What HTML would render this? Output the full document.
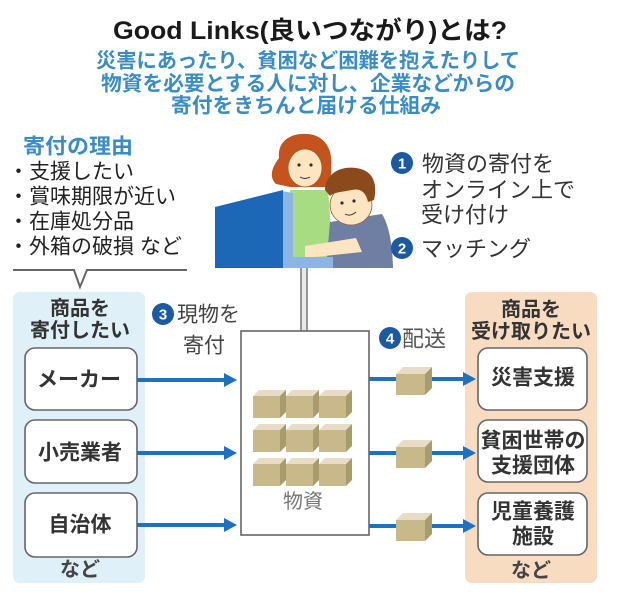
<!DOCTYPE html>
<html><head><meta charset="utf-8">
<style>
html,body{margin:0;padding:0;background:#fff;}
svg{display:block;}
text{font-family:"Liberation Sans","Noto Sans CJK JP",sans-serif;}
</style></head>
<body>
<svg width="620" height="596" viewBox="0 0 620 596" xmlns="http://www.w3.org/2000/svg">
<rect width="620" height="596" fill="#fff"/>

<!-- Title -->
<text x="310" y="31" font-size="25" font-weight="bold" fill="#1a1a1a" text-anchor="middle" dominant-baseline="central" textLength="394" lengthAdjust="spacingAndGlyphs">Good Links(良いつながり)とは?</text>
<g font-size="20.5" font-weight="bold" fill="#3a8cc6" text-anchor="middle" dominant-baseline="central">
<text x="308" y="61" textLength="424" lengthAdjust="spacingAndGlyphs">災害にあったり、貧困など困難を抱えたりして</text>
<text x="308" y="84" textLength="414" lengthAdjust="spacingAndGlyphs">物資を必要とする人に対し、企業などからの</text>
<text x="306" y="106" textLength="270" lengthAdjust="spacingAndGlyphs">寄付をきちんと届ける仕組み</text>
</g>

<!-- Reasons -->
<text x="23" y="147" font-size="21" font-weight="bold" fill="#3a8cc6" dominant-baseline="central" textLength="110" lengthAdjust="spacingAndGlyphs">寄付の理由</text>
<g font-size="21" fill="#222" dominant-baseline="central">
<text x="8" y="172">・支援したい</text>
<text x="8" y="197">・賞味期限が近い</text>
<text x="8" y="222">・在庫処分品</text>
<text x="8" y="247">・外箱の破損 など</text>
</g>
<polyline points="13,270 74,270 80,287 87,270 187,270" fill="none" stroke="#666" stroke-width="2"/>

<!-- Panels -->
<rect x="13" y="292" width="132" height="291" rx="7" fill="#e0f0f9"/>
<rect x="465" y="292" width="132" height="291" rx="7" fill="#f8dcc2"/>

<g font-size="20" font-weight="bold" fill="#333" text-anchor="middle" dominant-baseline="central">
<text x="80" y="309">商品を</text>
<text x="80" y="331">寄付したい</text>
<text x="531" y="310">商品を</text>
<text x="531" y="332">受け取りたい</text>
</g>

<!-- Boxes -->
<g fill="#fff" stroke="#666" stroke-width="1.6">
<rect x="25" y="348" width="112" height="62" rx="10"/>
<rect x="25" y="420" width="112" height="63" rx="10"/>
<rect x="25" y="493" width="112" height="64" rx="10"/>
<rect x="478" y="348" width="109" height="62" rx="10"/>
<rect x="478" y="420" width="109" height="62" rx="10"/>
<rect x="478" y="493" width="109" height="62" rx="10"/>
</g>
<g font-size="21" font-weight="bold" fill="#333" text-anchor="middle" dominant-baseline="central">
<text x="79" y="380">メーカー</text>
<text x="80" y="453">小売業者</text>
<text x="80" y="525">自治体</text>
<text x="533" y="378">災害支援</text>
<text x="533" y="441">貧困世帯の</text>
<text x="533" y="466">支援団体</text>
<text x="533" y="512">児童養護</text>
<text x="533" y="537">施設</text>
</g>
<g font-size="20" font-weight="bold" fill="#444" text-anchor="middle" dominant-baseline="central">
<text x="80" y="570">など</text>
<text x="531" y="571">など</text>
</g>

<!-- Arrows -->
<g stroke="#2070c0" stroke-width="4">
<line x1="137" y1="380" x2="226" y2="380"/>
<line x1="137" y1="453" x2="226" y2="453"/>
<line x1="137" y1="525" x2="226" y2="525"/>
<line x1="369" y1="379" x2="396" y2="379"/>
<line x1="369" y1="453" x2="396" y2="453"/>
<line x1="369" y1="526" x2="396" y2="526"/>
<line x1="432" y1="379" x2="465" y2="379"/>
<line x1="432" y1="453" x2="465" y2="453"/>
<line x1="432" y1="526" x2="465" y2="526"/>
</g>
<g fill="#2070c0">
<polygon points="224,373 237,380 224,387"/>
<polygon points="224,446 237,453 224,460"/>
<polygon points="224,518 237,525 224,532"/>
<polygon points="463,372 476,379 463,386"/>
<polygon points="463,446 476,453 463,460"/>
<polygon points="463,519 476,526 463,533"/>
</g>

<!-- Step 3 label -->
<circle cx="163" cy="314" r="11" fill="#1b5aa0"/>
<text x="163" y="315" font-size="15" font-weight="bold" fill="#fff" text-anchor="middle" dominant-baseline="central">3</text>
<g font-size="21" fill="#444" dominant-baseline="central">
<text x="177" y="315">現物を</text>
<text x="183" y="346">寄付</text>
</g>

<!-- Step 4 label -->
<circle cx="390" cy="338" r="11" fill="#1b5aa0"/>
<text x="390" y="339" font-size="15" font-weight="bold" fill="#fff" text-anchor="middle" dominant-baseline="central">4</text>
<text x="402" y="339" font-size="22" fill="#555" dominant-baseline="central">配送</text>

<!-- Pole -->
<rect x="301" y="262" width="6" height="69" fill="#e8e8e8"/>
<line x1="301" y1="262" x2="301" y2="331" stroke="#777" stroke-width="1.5"/>
<line x1="307" y1="262" x2="307" y2="331" stroke="#777" stroke-width="1.5"/>

<!-- Center box -->
<rect x="241" y="331" width="128" height="204" fill="#fff" stroke="#666" stroke-width="1.6"/>
<text x="303" y="502" font-size="20" fill="#777" text-anchor="middle" dominant-baseline="central">物資</text>

<!-- Cubes -->
<defs>
<g id="cube">
<polygon points="0,6 6,0 33,0 27,6" fill="#e8dcc6"/>
<rect x="0" y="6" width="27" height="22" fill="#c9b98a"/>
<polygon points="27,6 33,0 33,22 27,28" fill="#a99c6c"/>
</g>
<g id="scube">
<polygon points="0,7 7,0 36,0 29,7" fill="#e8dcc6"/>
<rect x="0" y="7" width="29" height="21" fill="#c9b98a"/>
<polygon points="29,7 36,0 36,21 29,28" fill="#a99c6c"/>
</g>
</defs>
<use href="#cube" x="253" y="390"/><use href="#cube" x="286" y="390"/><use href="#cube" x="319" y="390"/>
<use href="#cube" x="253" y="424"/><use href="#cube" x="286" y="424"/><use href="#cube" x="319" y="424"/>
<use href="#cube" x="253" y="458"/><use href="#cube" x="286" y="458"/><use href="#cube" x="319" y="458"/>
<use href="#scube" x="396" y="367"/>
<use href="#scube" x="396" y="440"/>
<use href="#scube" x="396" y="513"/>

<!-- Illustration -->
<path d="M276,184 C268,176 273,166 279,158 C277,139 294,133 306,134 C323,134 333,148 331,165 C332,176 330,184 326,187 L290,187 Z" fill="#c4531d"/>
<ellipse cx="305" cy="168" rx="17" ry="19" fill="#fde5c2" stroke="#9a5a30" stroke-width="0.8"/>
<path d="M289,152 C296,146 312,144 322,152 L322,140 L289,142 Z" fill="#c4531d"/>
<circle cx="299" cy="165" r="1.6" fill="#333"/>
<circle cx="311" cy="165" r="1.6" fill="#333"/>
<path d="M300,177 Q305,180 310,177" fill="none" stroke="#333" stroke-width="1"/>
<path d="M290,190 L328,190 L334,268 L292,268 Z" fill="#a7dc82"/>
<path d="M330,222 L382,214 Q392,230 393,268 L326,268 Z" fill="#6f7fa3"/>
<ellipse cx="351" cy="205" rx="21" ry="20" fill="#fde5c2" stroke="#9a5a30" stroke-width="0.8"/>
<path d="M325,190 C326,172 342,166 356,168 C372,170 378,182 374,200 L368,202 C366,192 360,188 352,190 C342,192 334,192 330,196 Z" fill="#8b4a1c"/>
<circle cx="342" cy="203" r="1.6" fill="#333"/>
<circle cx="354" cy="201" r="1.6" fill="#333"/>
<path d="M345,214 Q350,217 356,212" fill="none" stroke="#333" stroke-width="1"/>
<path d="M305,246 L356,238 L362,252 L305,258 Z" fill="#fde5c2"/>
<polygon points="281,191 293,193 293,257 333,257 333,268 281,268" fill="#8db5e4"/>
<polygon points="215,207 283,190 283,268 215,268" fill="#1c68b6"/>

<!-- Steps 1,2 -->
<circle cx="402" cy="163" r="11" fill="#1b5aa0"/>
<text x="402" y="164" font-size="15" font-weight="bold" fill="#fff" text-anchor="middle" dominant-baseline="central">1</text>
<circle cx="402" cy="248" r="11" fill="#1b5aa0"/>
<text x="402" y="249" font-size="15" font-weight="bold" fill="#fff" text-anchor="middle" dominant-baseline="central">2</text>
<g font-size="22" fill="#333" dominant-baseline="central">
<text x="422" y="164">物資の寄付を</text>
<text x="421" y="190">オンライン上で</text>
<text x="421" y="215">受け付け</text>
<text x="421" y="249">マッチング</text>
</g>
</svg>
</body></html>
